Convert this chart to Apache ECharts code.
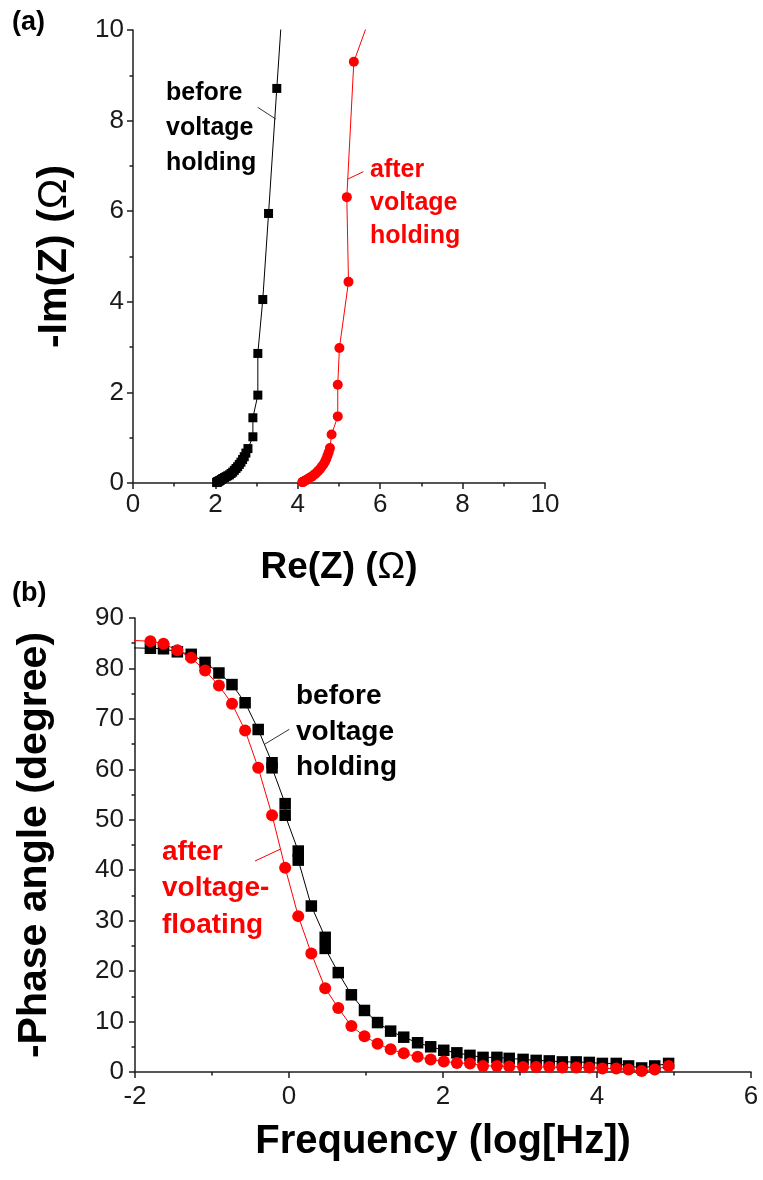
<!DOCTYPE html>
<html><head><meta charset="utf-8">
<script src="https://cdn.jsdelivr.net/npm/echarts/dist/echarts.min.js"></script>
<style>html,body{margin:0;padding:0;background:#fff}#c{width:763px;height:1180px}</style>
</head><body><div id="c"></div>
<script>
// ---------- (a) Nyquist plot ----------
const nyqBeforeRe = [3.66, 3.49, 3.29, 3.15, 3.03, 3.03, 2.91, 2.91, 2.79, 2.74, 2.70, 2.66, 2.62, 2.58, 2.54, 2.50, 2.46, 2.42, 2.38, 2.34, 2.30, 2.26, 2.22, 2.18, 2.15, 2.12, 2.10, 2.08, 2.06, 2.05, 2.04, 2.03];
const nyqBeforeIm = [11.0, 8.71, 5.95, 4.05, 2.86, 1.94, 1.44, 1.02, 0.76, 0.66, 0.58, 0.52, 0.46, 0.41, 0.36, 0.32, 0.28, 0.24, 0.21, 0.18, 0.16, 0.14, 0.12, 0.10, 0.08, 0.06, 0.05, 0.04, 0.03, 0.02, 0.02, 0.01];
const nyqAfterRe = [5.84, 5.36, 5.19, 5.23, 5.01, 4.97, 4.97, 4.82, 4.78, 4.75, 4.72, 4.69, 4.66, 4.62, 4.58, 4.54, 4.50, 4.46, 4.42, 4.38, 4.34, 4.30, 4.26, 4.23, 4.20, 4.17, 4.15, 4.13, 4.12, 4.11];
const nyqAfterIm = [10.5, 9.30, 6.31, 4.44, 2.98, 2.17, 1.47, 1.07, 0.77, 0.68, 0.60, 0.53, 0.47, 0.41, 0.36, 0.31, 0.27, 0.23, 0.20, 0.17, 0.14, 0.12, 0.10, 0.08, 0.06, 0.05, 0.04, 0.03, 0.02, 0.02];
const nyqTicks = [0, 2, 4, 6, 8, 10];

// ---------- (b) Bode phase plot ----------
const beforeFreq = [-2.10, -1.80, -1.63, -1.45, -1.27, -1.09, -0.91, -0.74, -0.57, -0.40, -0.22, -0.22, -0.05, -0.05, 0.12, 0.12, 0.29, 0.47, 0.47, 0.64, 0.81, 0.98, 1.15, 1.32, 1.49, 1.67, 1.84, 2.01, 2.18, 2.35, 2.52, 2.70, 2.86, 3.04, 3.21, 3.38, 3.55, 3.73, 3.90, 4.07, 4.25, 4.41, 4.58, 4.75, 4.93];
const beforePhase = [84.1, 84.0, 83.9, 83.3, 82.8, 81.2, 79.1, 76.8, 73.2, 67.9, 61.3, 60.3, 53.2, 50.9, 43.8, 42.0, 32.9, 26.7, 24.5, 19.7, 15.3, 12.2, 9.8, 8.1, 6.9, 5.8, 5.0, 4.3, 3.8, 3.3, 2.9, 2.9, 2.7, 2.5, 2.3, 2.2, 2.0, 2.0, 1.9, 1.7, 1.7, 1.2, 0.8, 1.2, 1.7];
const afterFreq = [-2.10, -1.80, -1.63, -1.45, -1.27, -1.09, -0.91, -0.74, -0.57, -0.40, -0.22, -0.05, 0.12, 0.29, 0.47, 0.64, 0.81, 0.98, 1.15, 1.32, 1.49, 1.67, 1.84, 2.01, 2.18, 2.35, 2.52, 2.70, 2.86, 3.04, 3.21, 3.38, 3.55, 3.73, 3.90, 4.07, 4.25, 4.41, 4.58, 4.75, 4.93];
const afterPhase = [85.6, 85.4, 84.9, 83.6, 82.1, 79.6, 76.6, 73.0, 67.7, 60.3, 50.9, 40.5, 30.9, 23.5, 16.6, 12.7, 9.1, 7.1, 5.6, 4.5, 3.7, 3.0, 2.5, 2.1, 1.8, 1.7, 1.2, 1.2, 1.1, 1.0, 1.0, 1.0, 0.9, 0.9, 0.9, 0.7, 0.7, 0.5, 0.2, 0.5, 1.2];
const freqTicks = [-2, 0, 2, 4, 6];
const phaseTicks = [0, 10, 20, 30, 40, 50, 60, 70, 80, 90];

const zip = (a, b) => a.map((v, i) => [v, b[i]]);
const FONT = 'Liberation Sans, Arial, sans-serif';
const AX = '#1e1e1e';

function valAxis(gridIndex, ticks, extra) {
  const min = ticks[0], max = ticks[ticks.length - 1];
  return Object.assign({
    type: 'value', gridIndex, min, max, interval: ticks[1] - ticks[0],
    axisLine: { show: true, onZero: false, lineStyle: { color: AX, width: 1.5 } },
    axisTick: { show: true, inside: false, length: 6, lineStyle: { color: AX, width: 1.5 } },
    minorTick: { show: true, splitNumber: 2, length: 3.5, lineStyle: { color: AX, width: 1.5 } },
    splitLine: { show: false }, minorSplitLine: { show: false },
    axisLabel: { color: '#1a1a1a', fontSize: 26, fontFamily: FONT, margin: 9, showMinLabel: true, showMaxLabel: true },
    nameLocation: 'middle',
    nameTextStyle: { color: '#000', fontSize: 37, fontWeight: 'bold', fontFamily: FONT,
      rich: { o: { fontSize: 37, fontWeight: 'normal', fontFamily: FONT, color: '#000' } } }
  }, extra);
}

function lineSeries(x, y, gi, color, symbol, size) {
  return {
    type: 'line', xAxisIndex: gi, yAxisIndex: gi, data: zip(x, y),
    symbol, symbolSize: size, showSymbol: true, clip: true,
    lineStyle: { color, width: 1 }, itemStyle: { color, borderWidth: 0 },
    emphasis: { disabled: true }, animation: false
  };
}

const chart = echarts.init(document.getElementById('c'), null, { renderer: 'canvas' });
chart.setOption({
  backgroundColor: '#fff',
  animation: false,
  grid: [
    { left: 133, top: 30, width: 412, height: 453 },
    { left: 135, top: 618, width: 616, height: 454 }
  ],
  xAxis: [
    valAxis(0, nyqTicks, { name: 'Re(Z) ({o|Ω})', nameGap: 66 }),
    valAxis(1, freqTicks, { name: 'Frequency (log[Hz])', nameGap: 50,
      axisLabel: { color: '#1a1a1a', fontSize: 26, fontFamily: FONT, margin: 12, showMinLabel: true, showMaxLabel: true },
      nameTextStyle: { color: '#000', fontSize: 40, fontWeight: 'bold', fontFamily: FONT } })
  ],
  yAxis: [
    valAxis(0, nyqTicks, { name: '-Im(Z) ({o|Ω})', nameGap: 58,
      nameTextStyle: { color: '#000', fontSize: 41, fontWeight: 'bold', fontFamily: FONT,
        rich: { o: { fontSize: 41, fontWeight: 'normal', fontFamily: FONT, color: '#000' } } } }),
    valAxis(1, phaseTicks, { name: '-Phase angle (degree)', nameGap: 80,
      axisLabel: { color: '#1a1a1a', fontSize: 26, fontFamily: FONT, margin: 11, showMinLabel: true, showMaxLabel: true },
      nameTextStyle: { color: '#000', fontSize: 41, fontWeight: 'bold', fontFamily: FONT } })
  ],
  series: [
    lineSeries(nyqBeforeRe, nyqBeforeIm, 0, '#000000', 'rect', 9),
    lineSeries(nyqAfterRe, nyqAfterIm, 0, '#ff0000', 'circle', 10),
    lineSeries(beforeFreq, beforePhase, 1, '#000000', 'rect', 11.5),
    lineSeries(afterFreq, afterPhase, 1, '#ff0000', 'circle', 12)
  ],
  graphic: [
    { type: 'text', left: 12, top: 9, style: { text: '(a)', font: 'bold 27px ' + FONT, fill: '#000' } },
    { type: 'text', left: 12, top: 580, style: { text: '(b)', font: 'bold 27px ' + FONT, fill: '#000' } },
    { type: 'text', left: 166, top: 76, style: { text: 'before\nvoltage\nholding', font: 'bold 25px ' + FONT, lineHeight: 35, fill: '#000' } },
    { type: 'text', left: 370, top: 154, style: { text: 'after\nvoltage\nholding', font: 'bold 25px ' + FONT, lineHeight: 33, fill: '#ff0000' } },
    { type: 'text', left: 296, top: 679, style: { text: 'before\nvoltage\nholding', font: 'bold 28px ' + FONT, lineHeight: 35.5, fill: '#000' } },
    { type: 'text', left: 162, top: 834, style: { text: 'after\nvoltage-\nfloating', font: 'bold 28px ' + FONT, lineHeight: 36.5, fill: '#ff0000' } },
    { type: 'line', shape: { x1: 257.7, y1: 107.3, x2: 275.7, y2: 119 }, style: { stroke: '#333', lineWidth: 1 } },
    { type: 'line', shape: { x1: 347.3, y1: 179.3, x2: 363.3, y2: 171.7 }, style: { stroke: '#ff0000', lineWidth: 1 } },
    { type: 'line', shape: { x1: 265, y1: 744, x2: 289.3, y2: 729.3 }, style: { stroke: '#333', lineWidth: 1 } },
    { type: 'line', shape: { x1: 255, y1: 861, x2: 280, y2: 849.3 }, style: { stroke: '#ff0000', lineWidth: 1 } }
  ]
});
</script></body></html>
